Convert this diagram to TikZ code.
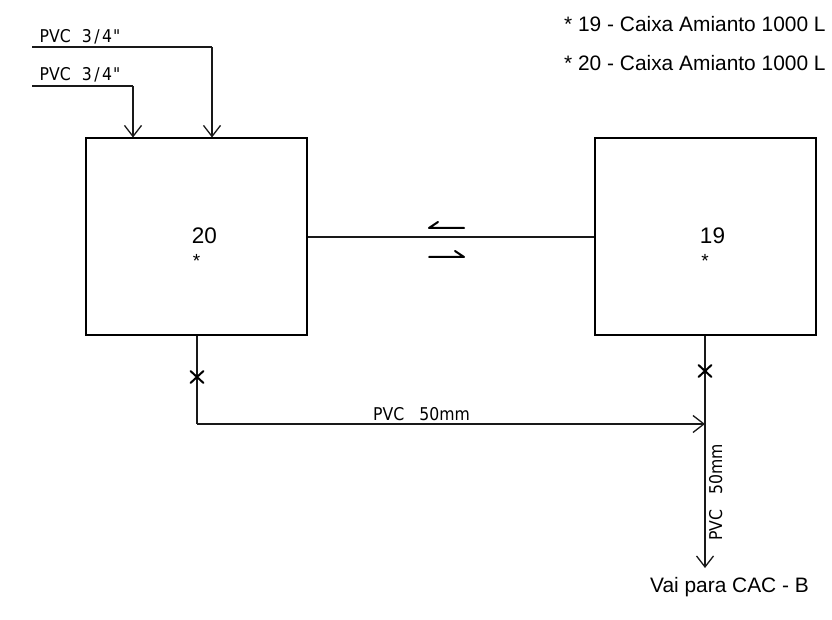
\documentclass[tikz,border=0pt]{standalone}
\usepackage{fontspec}
\setmainfont{Liberation Sans}
\newfontfamily\cadfont{DejaVu Sans}
\usetikzlibrary{arrows.meta,calc}
\newcommand{\cadtext}[1]{\scalebox{1}[1.12]{\cadfont\fontsize{15.7}{18}\selectfont #1}}
\tikzset{
  x=1pt,y=-1pt,
  pipe/.style={line width=1.5pt,black!90},
  tank/.style={draw=black,line width=2pt,minimum width=221pt,minimum height=197pt,inner sep=0pt},
  flow/.style={pipe,-{Straight Barb[length=11pt,width=17pt,line width=1.3pt]}},
  halfflow/.style={line width=2pt,line cap=round,line join=round},
  cross/.style={line width=2pt,line cap=round},
  note/.style={font=\fontsize{20.9}{24}\selectfont,anchor=west,inner sep=0pt},
  cad/.style={inner sep=0pt},
  tag/.style={font=\fontsize{22.5}{26}\selectfont,inner sep=0pt},
  star/.style={font=\fontsize{19}{22}\selectfont,inner sep=0pt}
}
\begin{document}
\begin{tikzpicture}
\useasboundingbox (0,0) rectangle (832,620);
\node[tank] (t20) at (196.5,236.5) {};
\node[tank] (t19) at (705.5,236.5) {};
\node[tag] (n20) at (204.5,236) {20};
\node[star] (s20) at (196.5,261) {*};
\node[tag] (n19) at (712.5,236) {19};
\node[star] (s19) at (705,261) {*};
\node[note] (l1) at (564,24) {* 19 - Caixa Amianto 1000 L};
\node[note] (l2) at (564,63) {* 20 - Caixa Amianto 1000 L};
\node[cad,anchor=base west] (p1) at (39.5,43) {\cadtext{PVC\hspace{11pt}3\hspace{2.5pt}/\hspace{2.5pt}4\hspace{1pt}"}};
\node[cad,anchor=base west] (p2) at (39.5,81) {\cadtext{PVC\hspace{11pt}3\hspace{2.5pt}/\hspace{2.5pt}4\hspace{1pt}"}};
\node[cad,anchor=base west] (p3) at (373,420) {\cadtext{PVC\hspace{15pt}50mm}};
\node[cad,anchor=base west,rotate=90] (p4) at (722,541) {\cadtext{PVC\hspace{15pt}50mm}};
\node[font=\fontsize{20.9}{24}\selectfont,inner sep=0pt] (dest) at (729.5,587) {Vai para CAC - B};
\coordinate (a1) at (32,47);
\coordinate (a1b) at (212,47);
\coordinate (a1c) at (212,137.5);
\coordinate (a2) at (32,86);
\coordinate (a2b) at (133,86);
\coordinate (a2c) at (133,137.5);
\coordinate (j) at (705,424);
\coordinate (d) at (197,424);
\coordinate (e) at (705,568);
\coordinate (m) at (450,237);
\draw[pipe] (a1) -- (a1b);
\draw[flow] (a1b) -- (a1c);
\draw[pipe] (a2) -- (a2b);
\draw[flow] (a2b) -- (a2c);
\draw[pipe] (t20.east |- m) -- (t19.west |- m);
\draw[pipe] (d |- t20.south) -- (d);
\draw[flow] (d) -- (j);
\draw[pipe] (j |- t19.south) -- (j);
\draw[flow] (j) -- (e);
\coordinate (x1) at (197,377);
\coordinate (x2) at (705,371);
\draw[cross] ([shift={(-6.5,-6)}]x1) -- ([shift={(6.5,6)}]x1);
\draw[cross] ([shift={(-6.5,6)}]x1) -- ([shift={(6.5,-6)}]x1);
\draw[cross] ([shift={(-6.5,-6)}]x2) -- ([shift={(6.5,6)}]x2);
\draw[cross] ([shift={(-6.5,6)}]x2) -- ([shift={(6.5,-6)}]x2);
\coordinate (h1a) at (464,228);
\coordinate (h1b) at (429,228);
\coordinate (h1c) at (438,222);
\coordinate (h2a) at (429,257);
\coordinate (h2b) at (464,257);
\coordinate (h2c) at (455,251);
\draw[halfflow] (h1a) -- (h1b) -- (h1c);
\draw[halfflow] (h2a) -- (h2b) -- (h2c);
\end{tikzpicture}
\end{document}
